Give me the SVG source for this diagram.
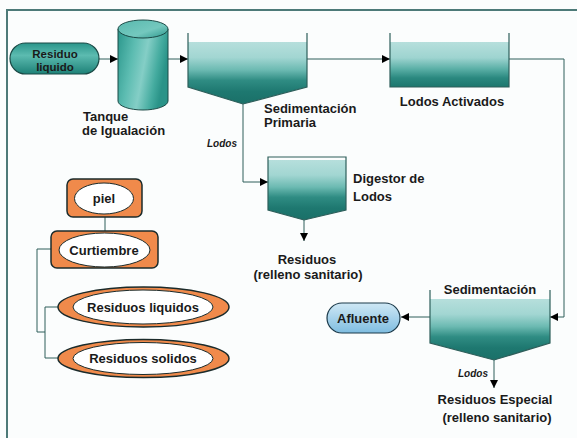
<svg xmlns="http://www.w3.org/2000/svg" width="577" height="438" viewBox="0 0 577 438">
<defs>
<linearGradient id="tank" x1="0" y1="0" x2="0" y2="1">
<stop offset="0" stop-color="#b6dfdc"/>
<stop offset="0.25" stop-color="#a2d6d2"/>
<stop offset="0.45" stop-color="#6cbab2"/>
<stop offset="0.62" stop-color="#2f8c83"/>
<stop offset="0.8" stop-color="#1e7870"/>
<stop offset="1" stop-color="#1a7068"/>
</linearGradient>
<linearGradient id="tankRect" x1="0" y1="0" x2="0" y2="1">
<stop offset="0" stop-color="#b6dfdc"/>
<stop offset="0.35" stop-color="#9ed4d0"/>
<stop offset="0.6" stop-color="#5aafa6"/>
<stop offset="0.8" stop-color="#2a887f"/>
<stop offset="1" stop-color="#1d776e"/>
</linearGradient>
<linearGradient id="cyl" x1="0" y1="0" x2="1" y2="0.3">
<stop offset="0" stop-color="#2a968b"/>
<stop offset="0.35" stop-color="#5cbcb1"/>
<stop offset="0.6" stop-color="#84cec6"/>
<stop offset="0.85" stop-color="#44ab9f"/>
<stop offset="1" stop-color="#2a9388"/>
</linearGradient>
<linearGradient id="cyltop" x1="0" y1="0" x2="1" y2="1">
<stop offset="0" stop-color="#58b9ae"/>
<stop offset="0.6" stop-color="#74c8be"/>
<stop offset="1" stop-color="#2a968b"/>
</linearGradient>
<linearGradient id="pill" x1="0" y1="0" x2="0" y2="1">
<stop offset="0" stop-color="#2a958a"/>
<stop offset="0.4" stop-color="#5cbbb0"/>
<stop offset="1" stop-color="#1d8177"/>
</linearGradient>
<linearGradient id="blue" x1="0" y1="0" x2="0" y2="1">
<stop offset="0" stop-color="#cfe8f5"/>
<stop offset="1" stop-color="#7fbde0"/>
</linearGradient>
<marker id="ah" viewBox="0 0 10 10" refX="10" refY="5" markerWidth="8" markerHeight="8" markerUnits="userSpaceOnUse" orient="auto">
<path d="M0,0 L10,5 L0,10 Z" fill="#000"/>
</marker>
</defs>
<style>
.t{font-family:"Liberation Sans",Arial,sans-serif;font-size:13px;font-weight:bold;fill:#1a1a1a}
.s{font-family:"Liberation Sans",Arial,sans-serif;font-size:11.5px;font-weight:bold;fill:#1a1a1a}
.it{font-family:"Liberation Sans",Arial,sans-serif;font-size:10px;font-weight:bold;font-style:italic;fill:#1a1a1a}
.c{fill:none;stroke:#2e5f5b;stroke-width:1}
.wall{fill:none;stroke:#2e5f5b;stroke-width:1.2}
.ob{fill:#f08a4b;stroke:#1b2b2b;stroke-width:1.5}
.in{fill:#fff;stroke:#1b2b2b;stroke-width:1}
</style>
<rect width="577" height="438" fill="#fbfdfd"/>
<path d="M7,438 L7,10 L577,10" fill="none" stroke="#4d7a78" stroke-width="2"/>

<g id="connectors">
<path class="c" d="M99,59 L118,59" marker-end="url(#ah)"/>
<path class="c" d="M168,59 L188,59" marker-end="url(#ah)"/>
<path class="c" d="M307,59 L390,59" marker-end="url(#ah)"/>
<path class="c" d="M509,59 L564,59 L564,317 L550,317" marker-end="url(#ah)"/>
<path class="c" d="M243,104 L243,182 L268,182" marker-end="url(#ah)"/>
<path class="c" d="M304,220 L304,241" marker-end="url(#ah)"/>
<path class="c" d="M430,317 L401,317" marker-end="url(#ah)"/>
<path class="c" d="M494,360 L494,388" marker-end="url(#ah)"/>
<path class="c" d="M105,217 L105,231"/>
<path class="c" d="M51,249 L37,249 L37,332 L45,332"/>
<path class="c" d="M58,307 L45,307 L45,358 L58,358"/>
</g>

<g id="residuo-liquido">
<rect x="10" y="43" width="89" height="31" rx="15.5" fill="url(#pill)" stroke="#1b4a46" stroke-width="1.2"/>
<text class="s" x="55" y="58" text-anchor="middle">Residuo</text>
<text class="s" x="55" y="71" text-anchor="middle">liquido</text>
</g>

<g id="tanque">
<path d="M118,29 L118,101 A25,9 0 0 0 168,101 L168,29 Z" fill="url(#cyl)" stroke="#1b4a46" stroke-width="1"/>
<ellipse cx="143" cy="29" rx="25" ry="9" fill="url(#cyltop)" stroke="#1b4a46" stroke-width="1"/>
<text class="t" x="83" y="121">Tanque</text>
<text class="t" x="82" y="135">de Igualación</text>
</g>

<g id="sed-primaria">
<path d="M188,42 L307,42 L307,87 L243,104 L188,87 Z" fill="url(#tank)"/>
<path class="wall" d="M188,33 L188,87 L243,104 L307,87 L307,33"/>
<text class="t" x="264" y="113">Sedimentación</text>
<text class="t" x="264" y="127">Primaria</text>
</g>

<g id="lodos-activados">
<rect x="390" y="42" width="119" height="45" fill="url(#tankRect)"/>
<path class="wall" d="M390,33 L390,87 L509,87 L509,33"/>
<text class="t" x="452" y="106" text-anchor="middle">Lodos Activados</text>
</g>

<g id="lodos-label-1">
<text class="it" x="207" y="147">Lodos</text>
</g>

<g id="digestor">
<path d="M268,160 L346,160 L346,210 L304,220 L268,210 Z" fill="url(#tank)"/>
<path class="wall" d="M268,157 L346,157 L346,210 L304,220 L268,210 Z"/>
<text class="t" x="353" y="183">Digestor de</text>
<text class="t" x="353" y="201">Lodos</text>
</g>

<g id="residuos">
<text class="t" x="307" y="264" text-anchor="middle">Residuos</text>
<text class="t" x="308" y="279" text-anchor="middle">(relleno sanitario)</text>
</g>

<g id="piel">
<rect class="ob" x="67" y="179" width="75" height="38" rx="6"/>
<ellipse class="in" cx="104" cy="198.5" rx="29.5" ry="15.5"/>
<text class="t" x="104" y="203" text-anchor="middle">piel</text>
</g>

<g id="curtiembre">
<rect class="ob" x="51" y="231" width="107" height="37" rx="6"/>
<ellipse class="in" cx="104.5" cy="250" rx="45.5" ry="17"/>
<text class="t" x="104" y="255" text-anchor="middle">Curtiembre</text>
</g>

<g id="residuos-liquidos">
<ellipse class="ob" cx="143.5" cy="307" rx="85.5" ry="20"/>
<ellipse class="in" cx="143" cy="307" rx="70" ry="17"/>
<text class="t" x="143" y="312" text-anchor="middle">Residuos liquidos</text>
</g>

<g id="residuos-solidos">
<ellipse class="ob" cx="143.5" cy="358.5" rx="85.5" ry="19"/>
<ellipse class="in" cx="143" cy="358.5" rx="70" ry="16"/>
<text class="t" x="143" y="363" text-anchor="middle">Residuos solidos</text>
</g>

<g id="sedimentacion">
<path d="M430,299 L550,299 L550,343 L494,360 L430,343 Z" fill="url(#tank)"/>
<path class="wall" d="M430,290 L430,343 L494,360 L550,343 L550,290"/>
<text class="t" x="490" y="294" text-anchor="middle">Sedimentación</text>
</g>

<g id="afluente">
<rect x="327" y="303" width="73" height="30" rx="15" fill="url(#blue)" stroke="#1b3a4a" stroke-width="1.2"/>
<text class="t" x="363" y="323" text-anchor="middle">Afluente</text>
</g>

<g id="lodos-label-2">
<text class="it" x="458" y="377">Lodos</text>
</g>

<g id="residuos-especial">
<text class="t" x="495" y="404" text-anchor="middle">Residuos Especial</text>
<text class="t" x="497" y="422" text-anchor="middle">(relleno sanitario)</text>
</g>
</svg>
